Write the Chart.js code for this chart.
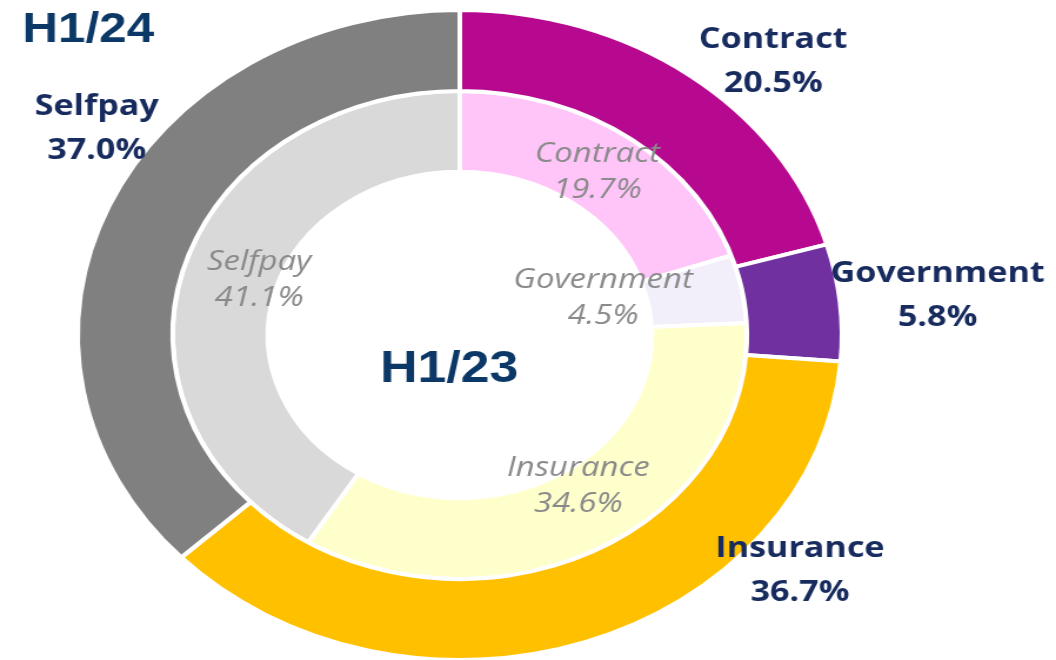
<!DOCTYPE html>
<html>
<head>
<meta charset="utf-8">
<script src="https://cdn.jsdelivr.net/npm/chart.js@4"></script>
<style>
  html, body { margin: 0; padding: 0; background: #fff; overflow: hidden; }
  /* the source picture is stretched sideways, so the whole chart is too */
  #wrap { width: 898px; height: 660px; transform: scaleX(1.176); transform-origin: 0 0; }
</style>
</head>
<body>
<div id="wrap"><canvas id="mixChart"></canvas></div>
<script>
const categories = ['Contract', 'Government', 'Insurance', 'Selfpay'];
const share2024 = [20.5, 5.8, 36.7, 37.0];
const share2023 = [19.7, 4.5, 34.6, 41.1];
const periods = ['H1/24', 'H1/23'];

const colors2024 = ['#B6098F', '#7030A0', '#FFC000', '#808080'];
const colors2023 = ['#FFC5F8', '#F2EEFA', '#FFFFCC', '#D9D9D9'];

// label anchors relative to the chart centre, in units of the outer radius
const outerLabelPos = [[0.82, -0.84], [1.25, -0.12], [0.89, 0.725], [-0.95, -0.635]];
const innerLabelPos = [[0.36, -0.50], [0.375, -0.115], [0.31, 0.465], [-0.525, -0.17]];

const ringLabels = {
  id: 'ringLabels',
  afterDatasetsDraw(chart) {
    const ctx = chart.ctx;
    const arc = chart.getDatasetMeta(0).data[0];
    const cx = arc.x, cy = arc.y, R = arc.outerRadius;
    ctx.save();
    ctx.textAlign = 'center';
    ctx.textBaseline = 'middle';
    categories.forEach((name, i) => {
      let x = cx + outerLabelPos[i][0] * R, y = cy + outerLabelPos[i][1] * R;
      ctx.font = 'bold 29px "Open Sans"';
      ctx.fillStyle = '#172B5E';
      ctx.fillText(name, x, y - 22);
      ctx.fillText(share2024[i].toFixed(1) + '%', x, y + 22);

      x = cx + innerLabelPos[i][0] * R;
      y = cy + innerLabelPos[i][1] * R;
      ctx.font = 'italic 28px "Open Sans"';
      ctx.fillStyle = '#8A8A8A';
      ctx.fillText(name, x, y - 18);
      ctx.fillText(share2023[i].toFixed(1) + '%', x, y + 18);
    });
    // period titles
    ctx.fillStyle = '#0B3866';
    ctx.font = 'bold 42px "Liberation Sans"';
    ctx.textBaseline = 'alphabetic';
    ctx.textAlign = 'left';
    ctx.fillText(periods[0], 19, 42);
    ctx.textAlign = 'center';
    ctx.font = 'bold 44px "Liberation Sans"';
    ctx.fillText(periods[1], cx - 9, cy + 47);
    ctx.restore();
  }
};

new Chart(document.getElementById('mixChart'), {
  type: 'doughnut',
  data: {
    labels: categories,
    datasets: [
      { label: periods[0], data: share2024, backgroundColor: colors2024 },
      { label: periods[1], data: share2023, backgroundColor: colors2023 }
    ]
  },
  options: {
    responsive: true,
    maintainAspectRatio: false,
    animation: false,
    radius: 325,
    cutout: '50.2%',
    borderWidth: 4,
    borderColor: '#ffffff',
    hoverOffset: 0,
    layout: { padding: { top: 10, right: 116 } },
    plugins: { legend: { display: false }, tooltip: { enabled: false } }
  },
  plugins: [ringLabels]
});
</script>
</body>
</html>
